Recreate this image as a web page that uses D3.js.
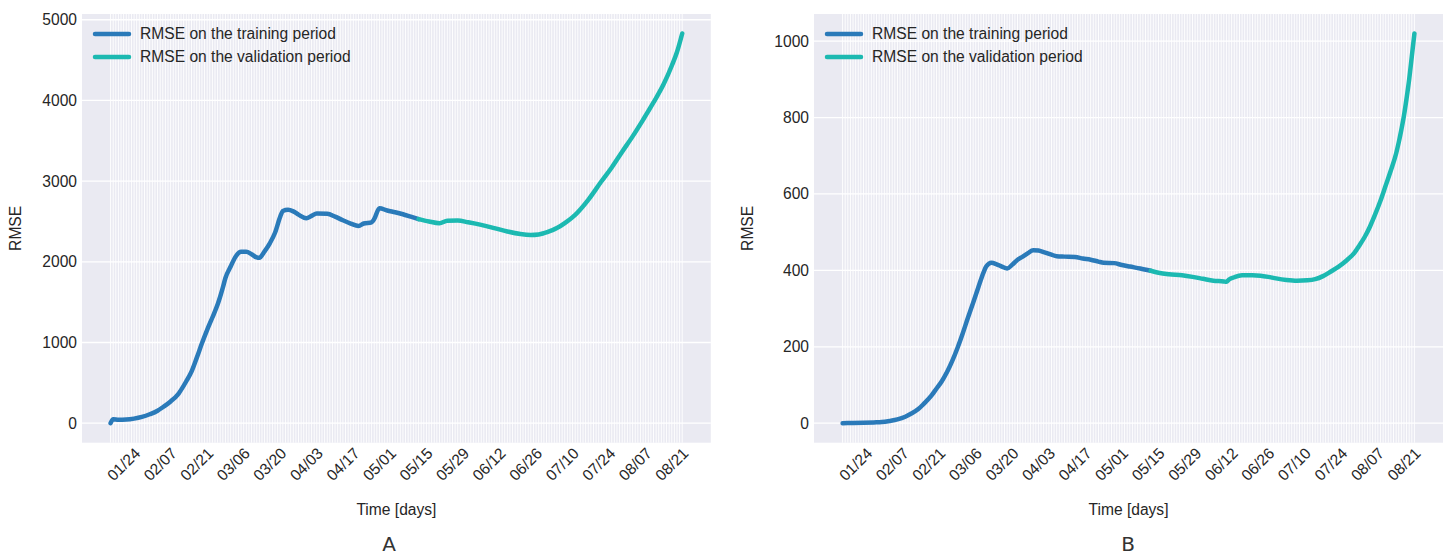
<!DOCTYPE html>
<html>
<head>
<meta charset="utf-8">
<script src="https://cdn.jsdelivr.net/npm/d3@7"></script>
<style>
  html, body { margin: 0; padding: 0; background: #ffffff; }
  svg { display: block; font-family: "Liberation Sans", Arial, sans-serif; }
</style>
</head>
<body>
<svg id="chart" width="1447" height="556"></svg>
<script>
// Day 0 of every series; one grid line is drawn per day.
const startDate = "2020-01-19";
const dayCount = 220;

// Labelled ticks (every two weeks)
const tickLabels = ["01/24", "02/07", "02/21", "03/06", "03/20", "04/03", "04/17",
  "05/01", "05/15", "05/29", "06/12", "06/26", "07/10", "07/24", "08/07", "08/21"];

const seriesNames = ["RMSE on the training period", "RMSE on the validation period"];
const panelLetters = ["A", "B"];

// Panel A — day offsets and RMSE values
const trainDaysA = [0, 1, 3, 6, 9, 12, 15, 18, 20, 23, 26, 29, 31, 33, 35, 37, 39, 41, 43, 44, 46, 48, 50, 52,
  54, 56, 57, 59, 61, 63, 65, 66, 68, 70, 72, 75, 77, 79, 83, 86, 89, 92, 95, 97, 100, 101, 103, 106, 109,
  112, 115, 118];
const trainRmseA = [0, 50, 42, 45, 57, 78, 111, 155, 198, 270, 365, 520, 640, 810, 990, 1157, 1310, 1470,
  1680, 1800, 1942, 2070, 2125, 2125, 2095, 2055, 2050, 2130, 2230, 2360, 2560, 2630, 2645, 2625, 2585,
  2540, 2570, 2600, 2595, 2560, 2515, 2475, 2445, 2475, 2490, 2530, 2665, 2636, 2615, 2590, 2560, 2530];
const validDaysA = [118, 122, 126, 129, 133, 137, 142, 147, 152, 157, 161, 164, 166, 169, 171, 174, 178,
  183, 188, 192, 196, 200, 204, 208, 212, 215, 217, 219];
const validRmseA = [2530, 2500, 2479, 2510, 2512, 2490, 2458, 2418, 2376, 2345, 2334, 2340, 2355, 2390,
  2418, 2480, 2582, 2768, 2995, 3170, 3365, 3555, 3760, 3975, 4210, 4430, 4600, 4830];

// Panel B — day offsets and RMSE values
const trainDaysB = [0, 4, 8, 12, 15, 18, 21, 24, 26, 29, 31, 34, 36, 38, 40, 42, 44, 46, 48, 50, 52, 54, 55,
  57, 59, 61, 63, 65, 67, 69, 71, 73, 75, 77, 80, 82, 85, 89, 92, 95, 98, 100, 104, 107, 110, 114, 118];
const trainRmseB = [0, 0.5, 1, 2, 3, 6, 10, 17, 24, 37, 50, 72, 91, 110, 134, 163, 197, 235, 276, 315, 356,
  395, 410, 420, 416, 410, 405, 415, 428, 436, 445, 453, 452, 448, 441, 437, 436, 435, 431, 428, 423, 420,
  419, 414, 410, 405, 399];
const validDaysB = [118, 121, 125, 130, 134, 138, 142, 146, 147, 148, 150, 153, 157, 160, 163, 166, 170, 174,
  178, 181, 184, 187, 190, 193, 196, 198, 200, 202, 204, 206, 208, 210, 212, 213, 214, 215, 216, 217, 218, 219];
const validRmseB = [399, 394, 390, 387, 383, 378, 373, 371, 370, 376, 382, 387, 387, 386, 383, 379, 375, 373,
  374, 377, 385, 397, 410, 426, 446, 466, 488, 515, 547, 582, 622, 662, 706, 735, 768, 805, 850, 900, 960, 1020];

const yTicksA = [0, 1000, 2000, 3000, 4000, 5000];
const yTicksB = [0, 200, 400, 600, 800, 1000];

const colors = { train: "#2a7ab9", valid: "#1cb9b1", face: "#eaeaf2", grid: "#ffffff", text: "#262626" };

const svg = d3.select("#chart");
const parseDay = d3.timeParse("%Y-%m-%d");
const day0 = parseDay(startDate);
const dayToDate = d => d3.timeDay.offset(day0, d);
const tickDates = tickLabels.map(l => d3.timeParse("%Y/%m/%d")("2020/" + l));
const allDays = d3.timeDay.range(day0, dayToDate(dayCount));
const fmt = d3.timeFormat("%m/%d");

function drawPanel(cfg) {
  const { left, right, top, bottom } = cfg;
  const g = svg.append("g");

  const lastDate = dayToDate(dayCount - 1);
  const padMs = (lastDate - day0) * 0.05;
  const x = d3.scaleTime()
    .domain([new Date(+day0 - padMs), new Date(+lastDate + padMs)])
    .range([left, right]);

  const allVals = cfg.trainRmse.concat(cfg.validRmse);
  const [vmin, vmax] = d3.extent(allVals);
  const padV = (vmax - vmin) * 0.05;
  const y = d3.scaleLinear().domain([vmin - padV, vmax + padV]).range([bottom, top]);

  // axes background
  g.append("rect").attr("x", left).attr("y", top)
    .attr("width", right - left).attr("height", bottom - top)
    .attr("fill", colors.face);

  // daily vertical grid
  g.append("g").selectAll("line").data(allDays).join("line")
    .attr("x1", d => x(d)).attr("x2", d => x(d))
    .attr("y1", top).attr("y2", bottom)
    .attr("stroke", colors.grid).attr("stroke-width", 0.9);

  // horizontal grid
  g.append("g").selectAll("line").data(cfg.yTicks).join("line")
    .attr("x1", left).attr("x2", right)
    .attr("y1", d => y(d)).attr("y2", d => y(d))
    .attr("stroke", colors.grid).attr("stroke-width", 1.3);

  // y tick labels
  g.append("g").selectAll("text").data(cfg.yTicks).join("text")
    .attr("x", left - 5).attr("y", d => y(d)).attr("dy", "0.35em")
    .attr("text-anchor", "end").attr("font-size", 15.6).attr("fill", colors.text)
    .text(d => d);

  // x tick labels, rotated 45°
  const labelCy = bottom + 21.5;
  g.append("g").selectAll("text").data(tickDates).join("text")
    .attr("x", d => x(d)).attr("y", labelCy).attr("dy", "0.35em")
    .attr("text-anchor", "middle").attr("font-size", 15.6).attr("fill", colors.text)
    .attr("transform", d => `rotate(-45, ${x(d)}, ${labelCy})`)
    .text(d => fmt(d));

  // axis titles
  g.append("text").attr("x", (left + right) / 2).attr("y", 515)
    .attr("text-anchor", "middle").attr("font-size", 15.6).attr("fill", colors.text)
    .text("Time [days]");
  const ylx = left - 61, yly = (top + bottom) / 2;
  g.append("text").attr("x", ylx).attr("y", yly)
    .attr("text-anchor", "middle").attr("font-size", 15.6).attr("fill", colors.text)
    .attr("transform", `rotate(-90, ${ylx}, ${yly})`)
    .text("RMSE");

  // series
  const line = d3.line()
    .x(d => x(dayToDate(d[0])))
    .y(d => y(d[1]))
    .curve(d3.curveMonotoneX);
  const trainPts = d3.zip(cfg.trainDays, cfg.trainRmse);
  const validPts = d3.zip(cfg.validDays, cfg.validRmse);
  g.append("path").datum(trainPts).attr("d", line)
    .attr("fill", "none").attr("stroke", colors.train).attr("stroke-width", 4.5)
    .attr("stroke-linecap", "round").attr("stroke-linejoin", "round");
  g.append("path").datum(validPts).attr("d", line)
    .attr("fill", "none").attr("stroke", colors.valid).attr("stroke-width", 4.5)
    .attr("stroke-linecap", "round").attr("stroke-linejoin", "round");

  // legend
  const lg = g.append("g");
  [colors.train, colors.valid].forEach((c, i) => {
    const ly = top + 20 + i * 23;
    lg.append("line").attr("x1", left + 13).attr("x2", left + 47)
      .attr("y1", ly).attr("y2", ly)
      .attr("stroke", c).attr("stroke-width", 4.5).attr("stroke-linecap", "round");
    lg.append("text").attr("x", left + 58).attr("y", ly).attr("dy", "0.35em")
      .attr("font-size", 15.6).attr("fill", colors.text)
      .text(seriesNames[i]);
  });

  // panel letter
  svg.append("text").attr("x", cfg.letterX).attr("y", 551)
    .attr("text-anchor", "middle").attr("font-size", 20)
    .attr("font-family", "'DejaVu Sans', sans-serif").attr("fill", "#333333")
    .text(cfg.letter);
}

drawPanel({
  left: 82, right: 710.8, top: 14, bottom: 442.7, letter: panelLetters[0], letterX: 389,
  trainDays: trainDaysA, trainRmse: trainRmseA, validDays: validDaysA, validRmse: validRmseA,
  yTicks: yTicksA
});
drawPanel({
  left: 814, right: 1443, top: 14, bottom: 442.7, letter: panelLetters[1], letterX: 1128,
  trainDays: trainDaysB, trainRmse: trainRmseB, validDays: validDaysB, validRmse: validRmseB,
  yTicks: yTicksB
});
</script>
</body>
</html>
